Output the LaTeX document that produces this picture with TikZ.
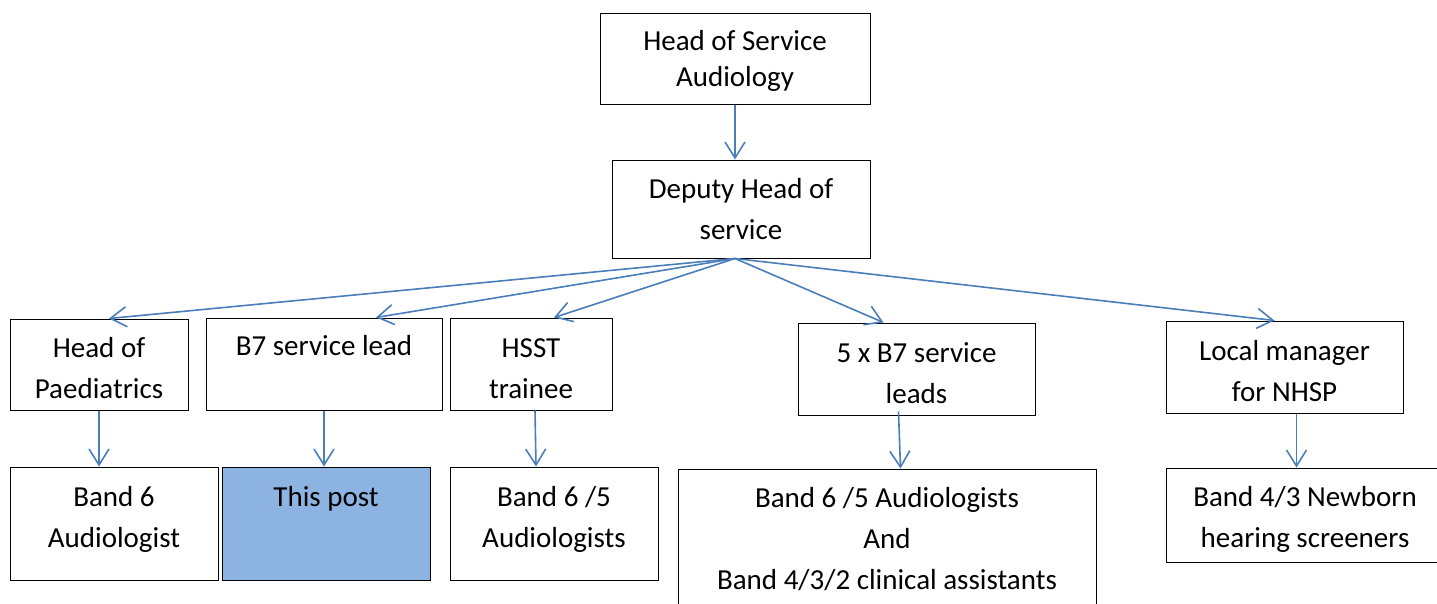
\documentclass[tikz,border=0pt]{standalone}
\usepackage{fontspec}
\setmainfont{Carlito}
\usetikzlibrary{arrows.meta, calc}
\definecolor{linkblue}{HTML}{4A7EBB}
\definecolor{postblue}{HTML}{8DB3E2}

\begin{document}
\begin{tikzpicture}[x=1pt, y=-1pt,
    role/.style={rectangle, draw=black, line width=1pt, inner sep=0pt, align=center,
                 font=\fontsize{29}{41}\selectfont},
    lower/.style={text height=69pt},
    raised/.style={text height=52pt},
    report/.style={-{Straight Barb[length=16pt, width=20pt]}, draw=linkblue, line width=1.6pt}
]
\clip (0,0) rectangle (1437,603);

% Management
\node[role, text height=60.5pt, minimum width=270pt, minimum height=91pt, font=\fontsize{29}{36}\selectfont] (head) at (735,58.5) {Head of Service\\Audiology};
\node[role, minimum width=258pt, minimum height=98pt] (deputy) at (741,209) {Deputy Head of\\service};
\coordinate (fan) at (head.south |- deputy.south);

% Leads
\node[role, lower, minimum width=178pt, minimum height=91pt] (paed) at (99,364.5) {Head of\\Paediatrics};
\node[role, lower, minimum width=236pt, minimum height=92pt] (lead) at (324,364) {B7 service lead\\\vphantom{Ag}};
\node[role, lower, minimum width=162pt, minimum height=92pt] (hsst) at (531,364) {HSST\\trainee};
\node[role, lower, minimum width=237pt, minimum height=92pt] (leads) at (916.5,369) {5 x B7 service\\leads};
\node[role, lower, minimum width=237pt, minimum height=92pt] (nhsp) at (1284.5,367) {Local manager\\for NHSP};

% Staff
\node[role, raised, minimum width=208pt, minimum height=113pt] (band6) at (114,523.5) {Band 6\\Audiologist};
\node[role, raised, minimum width=208pt, minimum height=113pt, fill=postblue] (post) at (326,523.5) {This post\\\vphantom{Ag}};
\node[role, raised, minimum width=208pt, minimum height=113pt] (band65) at (554,523.5) {Band 6 /5\\Audiologists};
\node[role, minimum width=418pt, minimum height=140pt] (teams) at (887,539) {Band 6 /5 Audiologists\\And\\Band 4/3/2 clinical assistants};
\node[role, lower, minimum width=278pt, minimum height=94pt] (screen) at (1305,515) {Band 4/3 Newborn\\hearing screeners};

% Reporting lines
\draw[report] (head.south) -- (fan |- deputy.north);
\draw[report] (fan) -- ($(paed.north)+(10,0)$);
\draw[report] (fan) -- ($(lead.north)+(52,0)$);
\draw[report] (fan) -- ($(hsst.north)+(23,0)$);
\draw[report] (fan) -- ($(leads.north)+(-33,0)$);
\draw[report] (fan) -- ($(nhsp.north)+(-10,0)$);

\draw[report] (paed.south) -- (paed.south |- band6.north);
\draw[report] (lead.south) -- (lead.south |- post.north);
\draw[report] ($(hsst.south)+(4,0)$) -- ($(hsst.south |- band65.north)+(5,0)$);
\draw[report] ($(leads.south)+(-18,-4)$) -- ($(leads.south |- teams.north)+(-16,0)$);
\draw[report] ($(nhsp.south)+(12,0)$) -- ($(nhsp.south |- screen.north)+(12,0)$);

\end{tikzpicture}
\end{document}
